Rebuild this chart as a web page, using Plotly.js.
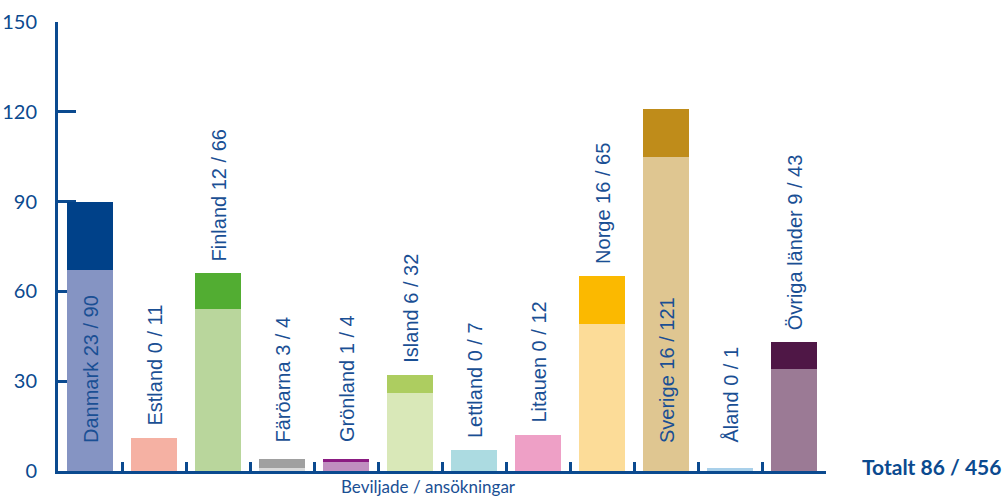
<!DOCTYPE html>
<html>
<head>
<meta charset="utf-8">
<script src="https://cdn.plot.ly/plotly-3.0.1.min.js"></script>
<style>html,body{margin:0;padding:0;background:#fff;}#chart{width:1004px;height:497px;}</style>
</head>
<body>
<div id="chart"></div>
<script>
// Data
const countries = ['Danmark','Estland','Finland','Färöarna','Grönland','Island','Lettland','Litauen','Norge','Sverige','Åland','Övriga länder'];
const approved = [23, 0, 12, 3, 1, 6, 0, 0, 16, 16, 0, 9];
const applications = [90, 11, 66, 4, 4, 32, 7, 12, 65, 121, 1, 43];
const yTicks = [0, 30, 60, 90, 120, 150];
const xTitle = 'Beviljade / ansökningar';
const totalLabel = 'Totalt 86 / 456';

// Styles
const darkColors = ['#004189','#f5b1a3','#52ad32','#a0a0a0','#8b1c82','#adcd60','#acdbe1','#eea0c6','#fbb900','#bf8c1a','#a9d0ea','#4f1746'];
const lightColors = ['#8594c3','#f5b1a3','#b9d69c','#d9d9d9','#c08fc0','#d9e8b8','#acdbe1','#eea0c6','#fcdc98','#dfc691','#a9d0ea','#9b7a95'];
const blue = '#0b4a8f';
const textBlue = '#1a4f94';

const rest = applications.map((n, i) => n - approved[i]);

const traces = [
  {type: 'bar', x: countries, y: rest, marker: {color: lightColors, line: {width: 0}}, hoverinfo: 'skip'},
  {type: 'bar', x: countries, y: approved, marker: {color: darkColors, line: {width: 0}}, hoverinfo: 'skip'}
];

const annotations = countries.map((c, i) => {
  const inside = applications[i] > 80;
  return {
    x: c, xref: 'x', yref: 'y',
    y: inside ? 0 : Math.max(applications[i], 5.5),
    yshift: inside ? 26 : 10,
    xshift: 1,
    yanchor: 'bottom', xanchor: 'center',
    textangle: -90, showarrow: false,
    text: c + ' ' + approved[i] + ' / ' + applications[i],
    font: {family: 'Liberation Sans, Arial, sans-serif', size: 20, color: textBlue}
  };
});
annotations.push({
  xref: 'paper', yref: 'paper', x: 0.482, y: 0, yshift: -15,
  xanchor: 'center', yanchor: 'middle', showarrow: false, text: xTitle,
  font: {family: 'Lato, sans-serif', size: 17, color: textBlue}
});
annotations.push({
  xref: 'paper', yref: 'paper', x: 1.044, y: 0, yshift: 5,
  xanchor: 'left', yanchor: 'middle', showarrow: false, text: '<b>' + totalLabel + '</b>',
  font: {family: 'Lato, sans-serif', size: 21, color: blue}
});

const layout = {
  width: 1004, height: 497,
  margin: {l: 58, r: 178, t: 22, b: 26, pad: 0},
  barmode: 'stack', bargap: 0.27,
  showlegend: false,
  paper_bgcolor: '#fff', plot_bgcolor: '#fff',
  xaxis: {
    type: 'category', showticklabels: false, showgrid: false, zeroline: false,
    showline: true, linecolor: blue, linewidth: 3,
    ticks: 'inside', tickson: 'boundaries', ticklen: 9, tickwidth: 3, tickcolor: blue,
    fixedrange: true
  },
  yaxis: {
    range: [0, 150], tickvals: yTicks, ticktext: yTicks.map(String),
    showgrid: false, zeroline: false, showline: true, linecolor: blue, linewidth: 3,
    ticks: 'inside', ticklen: 18, tickwidth: 3, tickcolor: blue,
    ticklabelstandoff: 14, layer: 'below traces',
    tickfont: {family: 'Lato, sans-serif', size: 20, color: blue},
    fixedrange: true
  },
  annotations: annotations
};

Plotly.newPlot('chart', traces, layout, {displayModeBar: false, staticPlot: true});
</script>
</body>
</html>
